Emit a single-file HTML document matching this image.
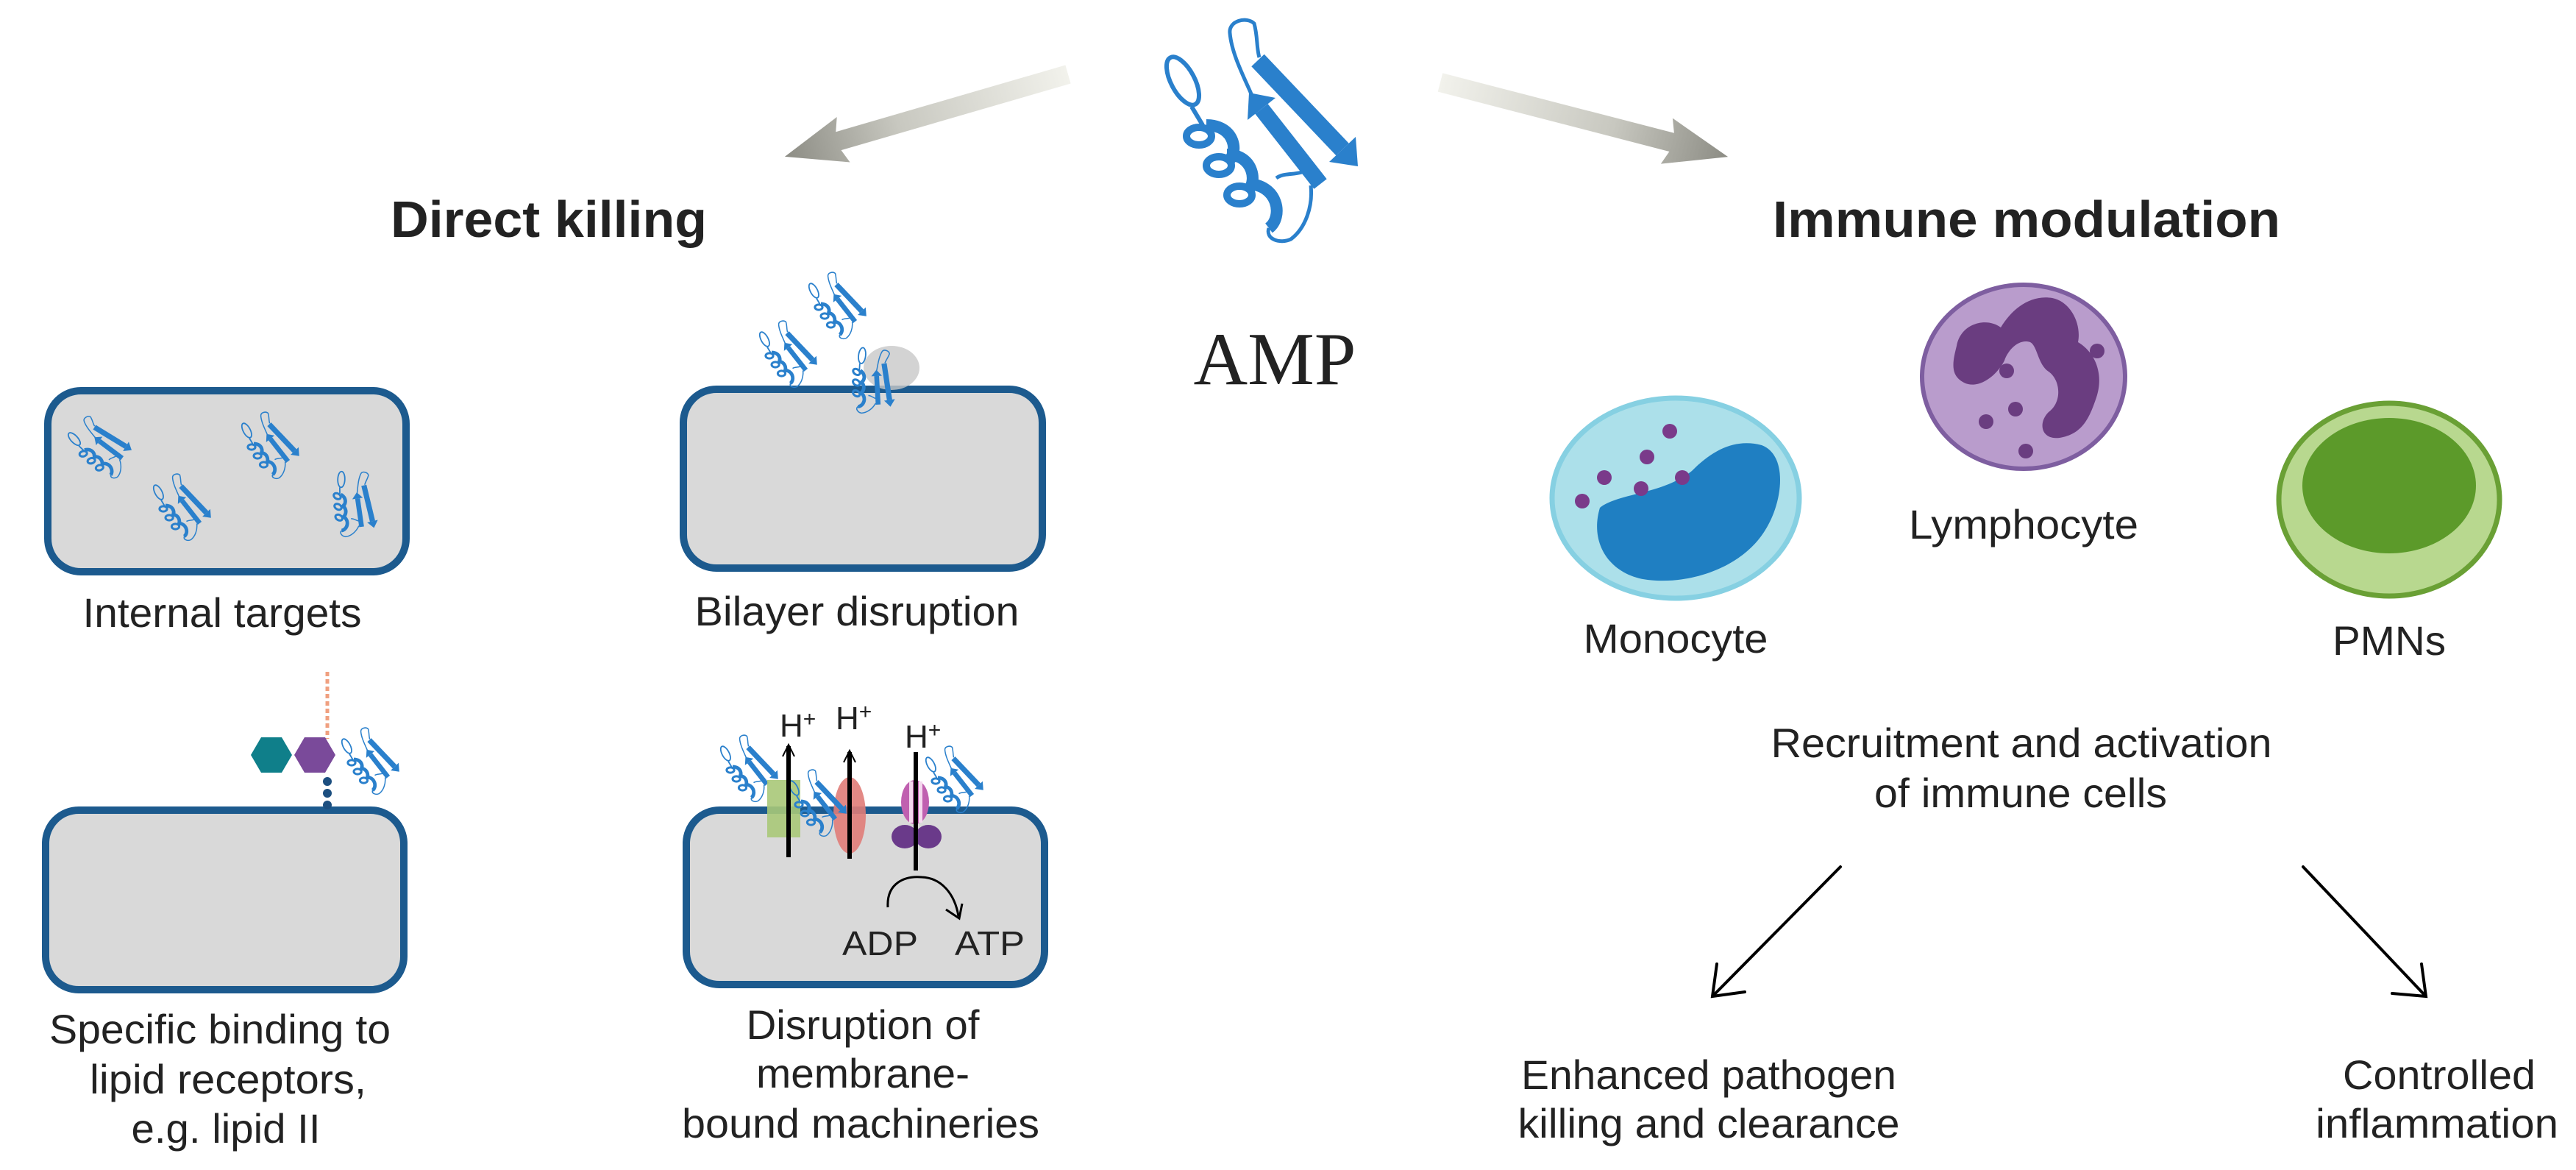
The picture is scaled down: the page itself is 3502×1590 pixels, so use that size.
<!DOCTYPE html>
<html><head><meta charset="utf-8"><style>
html,body{margin:0;padding:0;background:#fff}
svg{display:block}
text{font-family:"Liberation Sans",Arial,sans-serif;fill:#222}
</style></head><body>
<svg width="3502" height="1590" viewBox="0 0 3502 1590" xmlns="http://www.w3.org/2000/svg">
<defs>
<linearGradient id="ga" x1="0" y1="0" x2="1" y2="0">
<stop offset="0" stop-color="#f2f2ec"/><stop offset="0.6" stop-color="#c8c8c0"/><stop offset="1" stop-color="#8c8c84"/>
</linearGradient>
<g id="prot">
<path d="M150,130 C140,100 115,60 112,25 C110,8 135,2 145,12 C150,30 148,45 152,58" fill="none" stroke="#2a80cc" stroke-width="5"/>
<ellipse cx="48" cy="90" rx="16" ry="36" transform="rotate(-28 48 90)" fill="none" stroke="#2a80cc" stroke-width="6"/>
<path d="M60,125 L75,150" stroke="#2a80cc" stroke-width="6"/>
<line x1="150" y1="62" x2="265" y2="183" stroke="#2a80cc" stroke-width="24"/>
<polygon points="247,200 283,166 286,206" fill="#2a80cc"/>
<line x1="235" y1="230" x2="155" y2="128" stroke="#2a80cc" stroke-width="22"/>
<polygon points="174,113 136,143 138,106" fill="#2a80cc"/>
<ellipse cx="70" cy="165" rx="17" ry="12" fill="none" stroke="#2a80cc" stroke-width="10"/>
<ellipse cx="97" cy="205" rx="17" ry="12" fill="none" stroke="#2a80cc" stroke-width="10"/>
<ellipse cx="125" cy="245" rx="17" ry="12" fill="none" stroke="#2a80cc" stroke-width="10"/>
<path d="M80,150 C120,150 125,190 108,200 M108,190 C145,190 150,230 135,240 M135,230 C178,230 185,275 165,290" fill="none" stroke="#2a80cc" stroke-width="16"/>
<path d="M165,290 C160,305 180,312 195,305 C215,290 225,260 222,232 M175,222 C185,215 195,218 210,214" fill="none" stroke="#2a80cc" stroke-width="5"/>
</g>
</defs>

<g transform="translate(1452,101) rotate(163.8)">
<polygon points="0,-13 325,-13 318,-32 401,0 318,32 325,13 0,13" fill="url(#ga)"/>
</g>
<g transform="translate(1958,112) rotate(14.5)">
<polygon points="0,-13 325,-13 318,-32 404,0 318,32 325,13 0,13" fill="url(#ga)"/>
</g>

<use href="#prot" transform="translate(1560,20)"/>

<text x="1733" y="522" text-anchor="middle" style="font-family:'Liberation Serif',serif;font-size:102px" fill="#000">AMP</text>

<text x="746" y="322" text-anchor="middle" font-weight="bold" font-size="70" textLength="430" lengthAdjust="spacingAndGlyphs" fill="#111">Direct killing</text>
<text x="2755" y="322" text-anchor="middle" font-weight="bold" font-size="70" textLength="690" lengthAdjust="spacingAndGlyphs" fill="#111">Immune modulation</text>

<g fill="#d9d9d9" stroke="#1c5a8e" stroke-width="10">
<rect x="65" y="531" width="487" height="246" rx="45"/>
<rect x="929" y="529" width="488" height="243" rx="45"/>
<rect x="62" y="1101" width="487" height="244" rx="45"/>
<rect x="933" y="1101" width="487" height="237" rx="45"/>
</g>

<use href="#prot" transform="translate(136,609) rotate(-15) scale(0.3) translate(-150,-160)"/>
<use href="#prot" transform="translate(246,690) scale(0.3) translate(-150,-160)"/>
<use href="#prot" transform="translate(366,606) scale(0.3) translate(-150,-160)"/>
<use href="#prot" transform="translate(480,685) rotate(30) scale(0.3) translate(-150,-160)"/>

<ellipse cx="1212" cy="500" rx="38" ry="30" fill="#c8c8c8" opacity="0.8"/>
<use href="#prot" transform="translate(1070,482) scale(0.3) translate(-150,-160)"/>
<use href="#prot" transform="translate(1137,416) scale(0.3) translate(-150,-160)"/>
<use href="#prot" transform="translate(1185,518) rotate(35) scale(0.3) translate(-150,-160)"/>

<path d="M445,913 L445,1004" stroke="#f0a080" stroke-width="5" stroke-dasharray="6 4"/>
<polygon points="341,1026 355,1002 383,1002 397,1026 383,1050 355,1050" fill="#0f7f8a"/>
<polygon points="400,1026 414,1002 442,1002 456,1026 442,1050 414,1050" fill="#7a4a9a"/>
<circle cx="445" cy="1062" r="6" fill="#1c4f80"/><circle cx="445" cy="1078" r="6" fill="#1c4f80"/><circle cx="445" cy="1094" r="6" fill="#1c4f80"/>
<use href="#prot" transform="translate(502,1035) scale(0.3) translate(-150,-160)"/>

<use href="#prot" transform="translate(1017,1045) scale(0.3) translate(-150,-160)"/>
<use href="#prot" transform="translate(1296,1060) scale(0.3) translate(-150,-160)"/>
<rect x="1043" y="1060" width="45" height="78" fill="#a8c878" opacity="0.9"/>
<ellipse cx="1155" cy="1108" rx="22" ry="52" fill="#e07c78" opacity="0.9"/>
<use href="#prot" transform="translate(1110,1092) scale(0.3) translate(-150,-160)"/>
<ellipse cx="1244" cy="1090" rx="19" ry="30" fill="#c060b0"/>
<rect x="1236" y="1062" width="5" height="56" fill="#f4d8ee"/><rect x="1249" y="1062" width="5" height="56" fill="#f4d8ee"/>
<ellipse cx="1230" cy="1137" rx="18" ry="16" fill="#6a3a8a"/><ellipse cx="1262" cy="1137" rx="18" ry="16" fill="#6a3a8a"/>
<g stroke="#000" fill="none">
<line x1="1072" y1="1014" x2="1072" y2="1165" stroke-width="6"/>
<path d="M1064,1028 L1072,1012 L1080,1028" stroke-width="2"/>
<line x1="1155" y1="1022" x2="1155" y2="1167" stroke-width="6"/>
<path d="M1147,1036 L1155,1020 L1163,1036" stroke-width="2"/>
<line x1="1245" y1="1022" x2="1245" y2="1183" stroke-width="6"/>
<path d="M1207,1233 C1205,1200 1230,1190 1253,1192 C1280,1193 1298,1215 1303,1245" stroke-width="3"/>
<path d="M1286,1236 L1304,1248 L1308,1228" stroke-width="3"/>
</g>
<text x="1060" y="1001" font-size="44">H<tspan font-size="30" dy="-14">+</tspan></text>
<text x="1136" y="991" font-size="44">H<tspan font-size="30" dy="-14">+</tspan></text>
<text x="1230" y="1016" font-size="44">H<tspan font-size="30" dy="-14">+</tspan></text>
<text x="1145" y="1298" font-size="46" textLength="103" lengthAdjust="spacingAndGlyphs">ADP</text>
<text x="1298" y="1298" font-size="46" textLength="95" lengthAdjust="spacingAndGlyphs">ATP</text>

<g font-size="56" text-anchor="middle">
<text x="302" y="852" textLength="379" lengthAdjust="spacingAndGlyphs">Internal targets</text>
<text x="1165" y="850" textLength="441" lengthAdjust="spacingAndGlyphs">Bilayer disruption</text>
<text x="299" y="1418" textLength="464" lengthAdjust="spacingAndGlyphs">Specific binding to</text>
<text x="310" y="1486" textLength="376" lengthAdjust="spacingAndGlyphs">lipid receptors,</text>
<text x="307" y="1553" textLength="257" lengthAdjust="spacingAndGlyphs">e.g. lipid II</text>
<text x="1173" y="1412" textLength="317" lengthAdjust="spacingAndGlyphs">Disruption of</text>
<text x="1173" y="1478" textLength="290" lengthAdjust="spacingAndGlyphs">membrane-</text>
<text x="1170" y="1546" textLength="486" lengthAdjust="spacingAndGlyphs">bound machineries</text>
</g>

<ellipse cx="2278" cy="677" rx="168" ry="136" fill="#ace0ea" stroke="#86d0e2" stroke-width="7"/>
<path d="M2175,690 C2200,670 2260,672 2300,640 C2330,610 2360,596 2395,605 C2430,618 2425,680 2400,720 C2370,770 2300,795 2240,788 C2190,782 2160,740 2175,690 Z" fill="#1f7fc2"/>
<g fill="#7a3a8a">
<circle cx="2270" cy="586" r="10"/><circle cx="2239" cy="621" r="10"/><circle cx="2181" cy="649" r="10"/>
<circle cx="2287" cy="649" r="10"/><circle cx="2231" cy="664" r="10"/><circle cx="2151" cy="681" r="10"/>
</g>

<ellipse cx="2751" cy="512" rx="138" ry="125" fill="#b99ccc" stroke="#7e5ea0" stroke-width="6"/>
<path d="M2660,470 C2665,440 2700,430 2720,445 C2735,420 2760,400 2790,405 C2815,410 2830,440 2825,465 C2850,480 2860,510 2850,540 C2840,570 2830,590 2800,595 C2775,598 2770,575 2785,560 C2805,545 2800,515 2785,505 C2770,495 2770,470 2760,465 C2745,460 2730,475 2725,490 C2715,510 2690,530 2670,520 C2650,510 2655,490 2660,470 Z" fill="#6a3d80"/>
<g fill="#6a3d80">
<circle cx="2728" cy="504" r="10"/><circle cx="2740" cy="556" r="10"/><circle cx="2700" cy="573" r="10"/>
<circle cx="2851" cy="477" r="10"/><circle cx="2754" cy="613" r="10"/>
</g>

<ellipse cx="3248" cy="679" rx="150" ry="131" fill="#b8d88f" stroke="#6aa035" stroke-width="7"/>
<ellipse cx="3248" cy="660" rx="118" ry="92" fill="#5c9a2a"/>

<g font-size="56" text-anchor="middle">
<text x="2278" y="887" textLength="251" lengthAdjust="spacingAndGlyphs">Monocyte</text>
<text x="2751" y="732" textLength="312" lengthAdjust="spacingAndGlyphs">Lymphocyte</text>
<text x="3248" y="890" textLength="154" lengthAdjust="spacingAndGlyphs">PMNs</text>
<text x="2748" y="1029" textLength="681" lengthAdjust="spacingAndGlyphs">Recruitment and activation</text>
<text x="2747" y="1097" textLength="398" lengthAdjust="spacingAndGlyphs">of immune cells</text>
<text x="2323" y="1480" textLength="510" lengthAdjust="spacingAndGlyphs">Enhanced pathogen</text>
<text x="2323" y="1546" textLength="519" lengthAdjust="spacingAndGlyphs">killing and clearance</text>
<text x="3316" y="1480" textLength="262" lengthAdjust="spacingAndGlyphs">Controlled</text>
<text x="3313" y="1546" textLength="330" lengthAdjust="spacingAndGlyphs">inflammation</text>
</g>

<g stroke="#000" stroke-width="4" fill="none" stroke-linecap="round">
<line x1="2502" y1="1178" x2="2330" y2="1352"/>
<path d="M2334,1310 L2328,1354 L2372,1348"/>
<line x1="3131" y1="1178" x2="3296" y2="1352"/>
<path d="M3252,1350 L3298,1354 L3292,1310"/>
</g>
</svg>
</body></html>
